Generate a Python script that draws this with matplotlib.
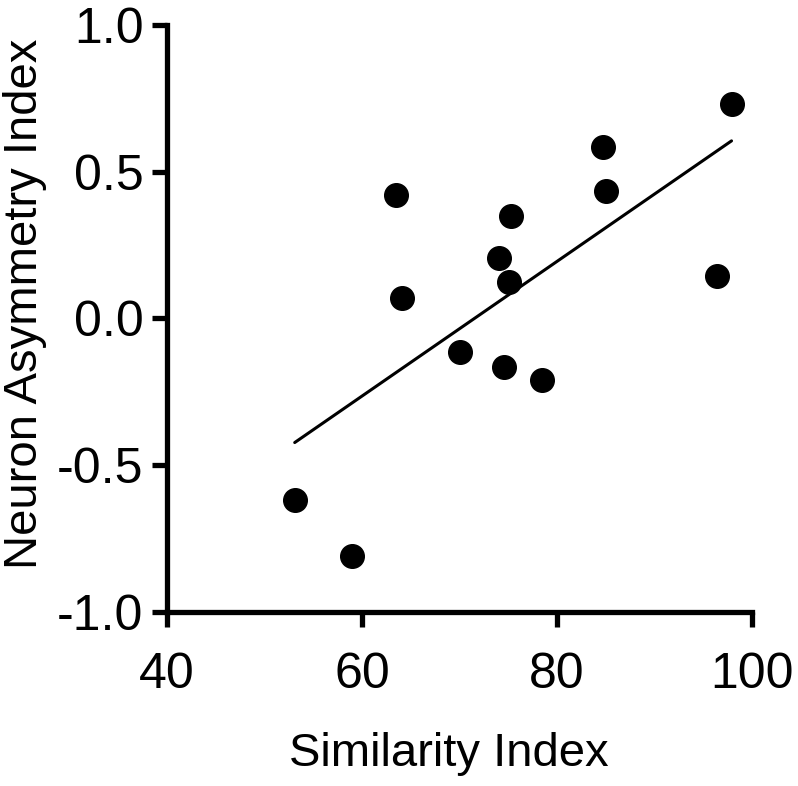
import numpy as np
import matplotlib
matplotlib.use("Agg")
import matplotlib.pyplot as plt

plt.rcParams['font.family'] = ['Liberation Sans', 'DejaVu Sans']

similarity = [53.1, 59.0, 63.5, 64.1, 70.0, 74.0, 75.3, 75.1, 74.6, 78.5, 84.7, 85.0, 96.4, 97.9]
asymmetry = [-0.62, -0.81, 0.42, 0.07, -0.115, 0.205, 0.35, 0.125, -0.165, -0.21, 0.585, 0.435, 0.145, 0.73]
x_ticks = [40, 60, 80, 100]
y_ticks = [-1.0, -0.5, 0.0, 0.5, 1.0]

fig = plt.figure(figsize=(7.98, 7.86), dpi=100)
ax = fig.add_axes([167/798, 1-612/786, (752-167)/798, (612-25)/786])

ax.scatter(similarity, asymmetry, s=17**2, color='black', zorder=3, clip_on=False)

slope, intercept = np.polyfit(similarity, asymmetry, 1)
xs = np.array([min(similarity), max(similarity)])
ax.plot(xs, slope*xs + intercept, color='black', lw=2.2, solid_capstyle='round')

ax.set_xlim(40, 100)
ax.set_ylim(-1.0, 1.0)
ax.set_xticks(x_ticks)
ax.set_yticks(y_ticks)
ax.set_xticklabels([f"{v}" for v in x_ticks])
ax.set_yticklabels([f"{v:.1f}" for v in y_ticks])

for s in ['top', 'right']:
    ax.spines[s].set_visible(False)
for s in ['left', 'bottom']:
    ax.spines[s].set_linewidth(3.8)
ax.tick_params(axis='both', width=3.8, length=11, labelsize=36, direction='out')
ax.tick_params(axis='x', pad=18)
ax.tick_params(axis='y', pad=6)

ax.set_xlabel('Similarity Index', fontsize=34)
ax.set_ylabel('Neuron Asymmetry Index', fontsize=34)
ax.xaxis.set_label_coords(0.482, -0.205)
ax.yaxis.set_label_coords(-0.205, 0.525)

fig.savefig('out.png', dpi=100)
